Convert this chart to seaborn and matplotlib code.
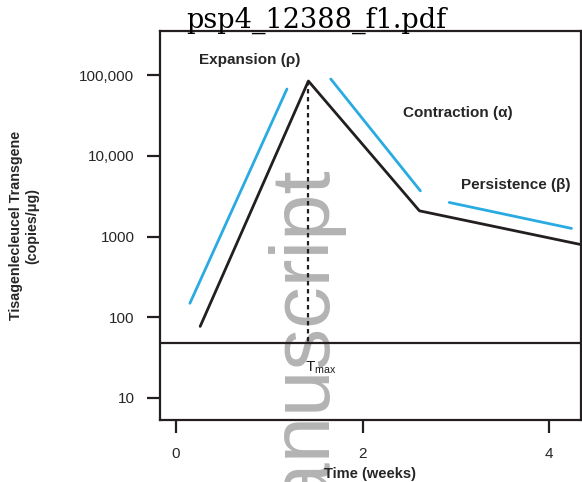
import pandas as pd
import matplotlib
matplotlib.use("Agg")
import matplotlib.pyplot as plt
import seaborn as sns

# Model curve (black)
model_weeks = [0.26, 1.42, 2.61, 4.34]
model_copies = [77, 84300, 2080, 795]

# Phase slopes (blue segments)
phase_names = ["expansion", "expansion", "contraction", "contraction", "persistence", "persistence"]
phase_weeks = [0.15, 1.19, 1.66, 2.62, 2.93, 4.24]
phase_copies = [149, 67100, 89200, 3680, 2640, 1260]

lloq = 47.6
tmax_week = 1.42
tmax_copies = 84300

y_ticks = [10, 100, 1000, 10000, 100000]
y_labels = ["10", "100", "1000", "10,000", "100,000"]
x_ticks = [0, 2, 4]

sns.set_style("ticks")
plt.rcParams["font.family"] = ["Liberation Sans", "DejaVu Sans"]

model = pd.DataFrame({"week": model_weeks, "copies": model_copies})
phases = pd.DataFrame({"phase": phase_names, "week": phase_weeks, "copies": phase_copies})

fig = plt.figure(figsize=(5.82, 4.82), dpi=100)
ax = fig.add_axes([0.275, 0.1286, 0.723, 0.807])

ax.set_yscale("log")
sns.lineplot(data=phases, x="week", y="copies", units="phase", estimator=None,
             color="#29ABE2", lw=2, ax=ax, zorder=3)
sns.lineplot(data=model, x="week", y="copies", color="#231f20", lw=2, ax=ax, zorder=3)

ax.axhline(lloq, color="#231f20", lw=1.6, zorder=3)
ax.plot([tmax_week, tmax_week], [tmax_copies, lloq * 1.05], color="#231f20",
        lw=1.6, linestyle=(0, (2, 1.6)), zorder=3)

ax.set_xlim(-0.17, 4.34)
ax.set_ylim(10 ** 0.727, 10 ** 5.545)
ax.set_xticks(x_ticks)
ax.set_xticklabels([str(t) for t in x_ticks])
ax.set_yticks(y_ticks)
ax.set_yticklabels(y_labels)
ax.minorticks_off()
ax.tick_params(axis="both", length=9.4, width=1.6, labelsize=11, color="#231f20")
ax.tick_params(axis="x", pad=10)
ax.tick_params(axis="y", pad=9)
for s in ax.spines.values():
    s.set_linewidth(1.6)
    s.set_color("#231f20")

ax.set_xlabel("Time (weeks)", fontsize=10.5, fontweight="bold", labelpad=4)
ax.set_ylabel("Tisagenlecleucel Transgene\n(copies/\u03bcg)", fontsize=10.3,
              fontweight="bold", labelpad=29)

# phase annotations
ax.text(0.0926, 0.925, "Expansion (\u03c1)", transform=ax.transAxes,
        fontsize=11, fontweight="bold", va="center", ha="left")
ax.text(0.577, 0.789, "Contraction (\u03b1)", transform=ax.transAxes,
        fontsize=11, fontweight="bold", va="center", ha="left")
ax.text(0.715, 0.604, "Persistence (\u03b2)", transform=ax.transAxes,
        fontsize=11, fontweight="bold", va="center", ha="left")
ax.text(1.383, 24, r"T$_{\mathregular{max}}$", fontsize=11,
        ha="left", va="center", color="#231f20")

# watermark and header from the source pdf
ax.text(0.5584, 0.658, "manuscript", transform=fig.transFigure, rotation=90,
        rotation_mode="anchor", ha="right", va="baseline", fontsize=60,
        color="#b3b3b3", family="Liberation Sans", zorder=0.5, clip_on=False)
fig.text(0.543, 0.942, "psp4_12388_f1.pdf", ha="center", va="baseline",
         fontsize=19.5, family="DejaVu Serif", color="black", zorder=5)

plt.savefig("out.png", dpi=100)
